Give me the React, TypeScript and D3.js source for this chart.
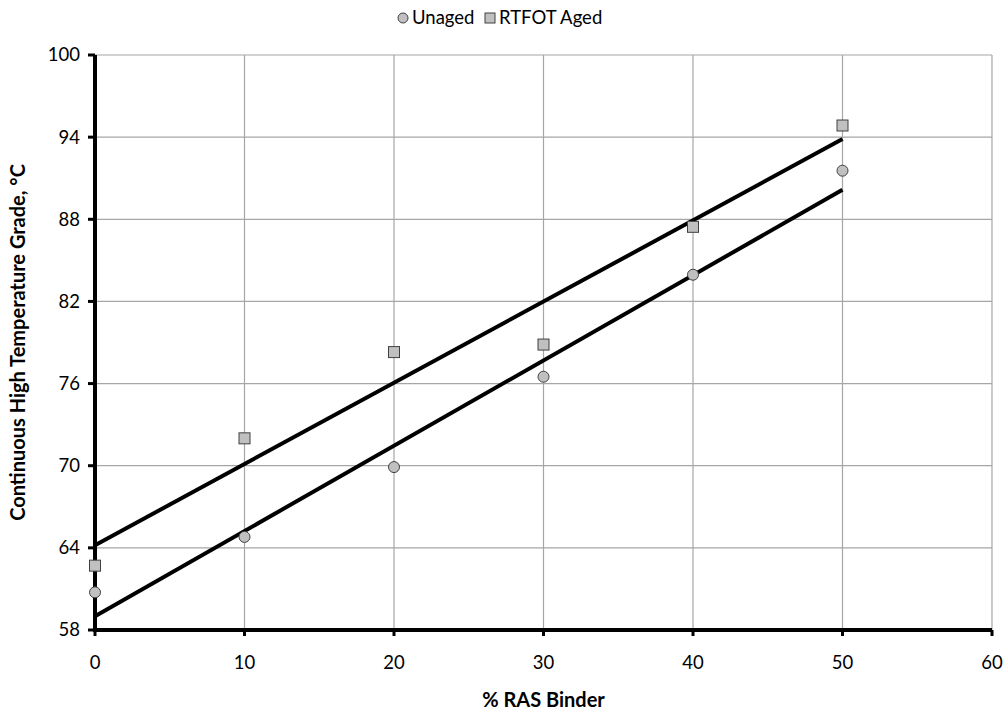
import React from "react";
import * as d3 from "d3";

const xValues = [0, 10, 20, 30, 40, 50];
const unaged = [60.75, 64.8, 69.9, 76.5, 83.95, 91.55];
const rtfotAged = [62.7, 72.0, 78.3, 78.85, 87.45, 94.85];
const xTicks = [0, 10, 20, 30, 40, 50, 60];
const yTicks = [58, 64, 70, 76, 82, 88, 94, 100];
const seriesNames = ["Unaged", "RTFOT Aged"];

const W = 1007;
const H = 715;
const M = { left: 95, right: 992, top: 55, bottom: 630 };
const FONT = "Lato, 'Open Sans', sans-serif";

function linFit(xs: number[], ys: number[]) {
  const mx = d3.mean(xs)!;
  const my = d3.mean(ys)!;
  let sxy = 0, sxx = 0;
  xs.forEach((x, i) => {
    sxy += (x - mx) * (ys[i] - my);
    sxx += (x - mx) * (x - mx);
  });
  const b = sxy / sxx;
  const a = my - b * mx;
  return (x: number) => a + b * x;
}

export default function App() {
  const x = d3.scaleLinear().domain([0, 60]).range([M.left, M.right]);
  const y = d3.scaleLinear().domain([58, 100]).range([M.bottom, M.top]);
  const line = d3
    .line<number[]>()
    .x((d) => x(d[0]))
    .y((d) => y(d[1]));
  const fitU = linFit(xValues, unaged);
  const fitR = linFit(xValues, rtfotAged);
  const xmin = d3.min(xValues)!;
  const xmax = d3.max(xValues)!;
  const gridColor = "#a6a6a6";
  const fill = "#c0c0c0";
  const mstroke = "#404040";

  return (
    <svg
      width={W}
      height={H}
      style={{ position: "absolute", left: 0, top: 0, background: "#fff" }}
      fontFamily={FONT}
    >
      {/* gridlines */}
      {xTicks.slice(1).map((t) => (
        <line key={"gx" + t} x1={x(t)} x2={x(t)} y1={M.top} y2={M.bottom} stroke={gridColor} strokeWidth={1.2} />
      ))}
      {yTicks.slice(1).map((t) => (
        <line key={"gy" + t} x1={M.left} x2={M.right} y1={y(t)} y2={y(t)} stroke={gridColor} strokeWidth={1.2} />
      ))}
      {/* axes */}
      <line x1={M.left} x2={M.left} y1={M.top} y2={M.bottom + 2} stroke="#000" strokeWidth={4} />
      <line x1={M.left - 2} x2={M.right} y1={M.bottom} y2={M.bottom} stroke="#000" strokeWidth={4} />
      {yTicks.map((t) => (
        <line key={"ty" + t} x1={M.left - 7} x2={M.left} y1={y(t)} y2={y(t)} stroke="#000" strokeWidth={3} />
      ))}
      {xTicks.map((t) => (
        <line key={"tx" + t} x1={x(t)} x2={x(t)} y1={M.bottom} y2={M.bottom + 6} stroke="#000" strokeWidth={3} />
      ))}
      {/* tick labels */}
      {yTicks.map((t) => (
        <text key={"ly" + t} x={M.left - 15} y={y(t)} dy="0.35em" textAnchor="end" fontSize={18.5} fill="#000">
          {t}
        </text>
      ))}
      {xTicks.map((t) => (
        <text key={"lx" + t} x={x(t)} y={M.bottom + 39} textAnchor="middle" fontSize={18.5} fill="#000">
          {t}
        </text>
      ))}
      {/* axis titles */}
      <text x={(M.left + M.right) / 2} y={707} textAnchor="middle" fontSize={20} fontWeight="bold">
        % RAS Binder
      </text>
      <text
        transform={`translate(25, ${(M.top + M.bottom) / 2}) rotate(-90)`}
        textAnchor="middle"
        fontSize={20}
        fontWeight="bold"
      >
        Continuous High Temperature Grade, °C
      </text>
      {/* trendlines */}
      <path d={line([[xmin, fitR(xmin)], [xmax, fitR(xmax)]])!} stroke="#000" strokeWidth={4} fill="none" />
      <path d={line([[xmin, fitU(xmin)], [xmax, fitU(xmax)]])!} stroke="#000" strokeWidth={4} fill="none" />
      {/* markers */}
      {xValues.map((xv, i) => (
        <circle key={"u" + i} cx={x(xv)} cy={y(unaged[i])} r={5.5} fill={fill} stroke={mstroke} strokeWidth={1} />
      ))}
      {xValues.map((xv, i) => (
        <rect key={"r" + i} x={x(xv) - 5.5} y={y(rtfotAged[i]) - 5.5} width={11} height={11} fill={fill} stroke={mstroke} strokeWidth={1} />
      ))}
      {/* legend */}
      <g transform="translate(0,18)">
        <circle cx={403} cy={0} r={5} fill={fill} stroke={mstroke} strokeWidth={1} />
        <text x={412} y={0} dy="0.35em" fontSize={18.5}>{seriesNames[0]}</text>
        <rect x={485} y={-5} width={10} height={10} fill={fill} stroke={mstroke} strokeWidth={1} />
        <text x={499} y={0} dy="0.35em" fontSize={18.5}>{seriesNames[1]}</text>
      </g>
    </svg>
  );
}
